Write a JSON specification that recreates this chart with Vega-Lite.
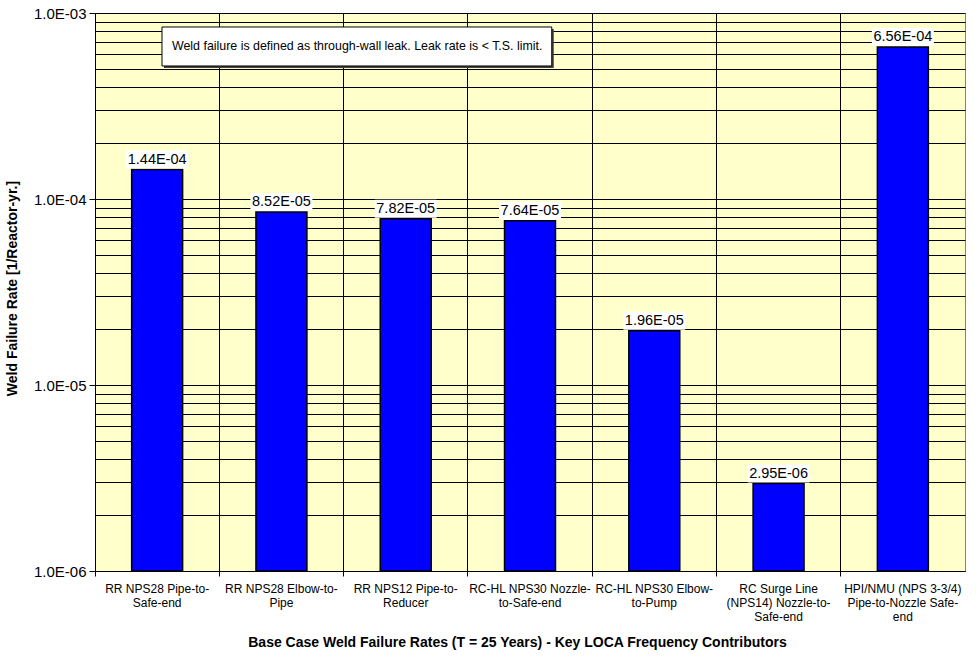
{
  "$schema": "https://vega.github.io/schema/vega-lite/v6.json",
  "autosize": "none",
  "width": 870,
  "height": 558,
  "padding": {"left": 95, "top": 13, "right": 11, "bottom": 86},
  "background": "white",
  "config": {
    "font": "Liberation Sans",
    "view": {"fill": "#FFFFCC", "stroke": "#808080", "strokeWidth": 1}
  },
  "datasets": {
    "welds": [
      {"cat": "RR NPS28 Pipe-to-|Safe-end", "rate": 0.000144, "label": "1.44E-04"},
      {"cat": "RR NPS28 Elbow-to-|Pipe", "rate": 0.0000852, "label": "8.52E-05"},
      {"cat": "RR NPS12 Pipe-to-|Reducer", "rate": 0.0000782, "label": "7.82E-05"},
      {"cat": "RC-HL NPS30 Nozzle-|to-Safe-end", "rate": 0.0000764, "label": "7.64E-05"},
      {"cat": "RC-HL NPS30 Elbow-|to-Pump", "rate": 0.0000196, "label": "1.96E-05"},
      {"cat": "RC Surge Line|(NPS14) Nozzle-to-|Safe-end", "rate": 0.00000295, "label": "2.95E-06"},
      {"cat": "HPI/NMU (NPS 3-3/4)|Pipe-to-Nozzle Safe-|end", "rate": 0.000656, "label": "6.56E-04"}
    ],
    "note": [
      {"x0": 0.077, "x1": 0.525, "xt": 0.0885, "ytop": 0.000841, "ybot": 0.000519, "ymid": 0.000665,
       "text": "Weld failure is defined as through-wall leak. Leak rate is < T.S. limit."}
    ]
  },
  "resolve": {"scale": {"x": "independent"}},
  "layer": [
    {
      "data": {"name": "welds"},
      "mark": {"type": "bar", "fill": "#0000FF", "stroke": "black", "strokeWidth": 1.5, "width": {"band": 0.41}},
      "encoding": {
        "x": {
          "field": "cat", "type": "nominal", "sort": null,
          "scale": {"paddingInner": 0, "paddingOuter": 0},
          "axis": {
            "title": "Base Case Weld Failure Rates (T = 25 Years) - Key LOCA Frequency Contributors",
            "titleFontSize": 14, "titleFontWeight": "bold", "titleColor": "black",
            "titleX": 422, "titleAlign": "center", "titleY": 71, "titleBaseline": "middle",
            "labelExpr": "split(datum.label, '|')",
            "labelAngle": 0, "labelFontSize": 12, "labelLineHeight": 14, "labelColor": "black",
            "labelPadding": 7, "labelBaseline": "top",
            "bandPosition": 0,
            "grid": true, "gridColor": "black", "gridOpacity": 1, "gridWidth": 1,
            "ticks": true, "tickSize": 5, "tickColor": "black",
            "domain": true, "domainColor": "black"
          }
        },
        "y": {
          "field": "rate", "type": "quantitative",
          "scale": {"type": "log", "domain": [0.000001, 0.001], "nice": false},
          "axis": {
            "title": "Weld Failure Rate [1/Reactor-yr.]",
            "titleFontSize": 14, "titleFontWeight": "bold", "titleColor": "black",
            "titleX": -83, "titleY": 275, "titleBaseline": "middle", "titleAngle": -90,
            "values": [0.000001, 0.000002, 0.000003, 0.000004, 0.000005, 0.000006, 0.000007, 0.000008, 0.000009,
                       0.00001, 0.00002, 0.00003, 0.00004, 0.00005, 0.00006, 0.00007, 0.00008, 0.00009,
                       0.0001, 0.0002, 0.0003, 0.0004, 0.0005, 0.0006, 0.0007, 0.0008, 0.0009, 0.001],
            "labelExpr": "abs(log(datum.value)/LN10 - round(log(datum.value)/LN10)) < 0.000001 ? '1.0E-0' + abs(round(log(datum.value)/LN10)) : ''",
            "labelFontSize": 15, "labelColor": "black", "labelPadding": 3,
            "grid": true, "gridColor": "black", "gridOpacity": 1, "gridWidth": 1,
            "tickSize": 6, "tickColor": "black",
            "tickOpacity": {"condition": {"test": "abs(log(datum.value)/LN10 - round(log(datum.value)/LN10)) < 0.000001", "value": 1}, "value": 0},
            "domain": true, "domainColor": "black"
          }
        },
        "y2": {"datum": 0.000001}
      }
    },
    {
      "data": {"name": "welds"},
      "mark": {"type": "point", "shape": "M-1,-0.29L1,-0.29L1,0.29L-1,0.29Z", "size": 3844, "filled": true, "fill": "white", "opacity": 1, "strokeWidth": 0, "yOffset": -10},
      "encoding": {
        "x": {"field": "cat", "type": "nominal", "sort": null, "scale": {"paddingInner": 0, "paddingOuter": 0}, "axis": null},
        "y": {"field": "rate", "type": "quantitative"}
      }
    },
    {
      "data": {"name": "welds"},
      "mark": {"type": "text", "fontSize": 14.5, "color": "black", "baseline": "middle", "align": "center", "yOffset": -10},
      "encoding": {
        "x": {"field": "cat", "type": "nominal", "sort": null, "scale": {"paddingInner": 0, "paddingOuter": 0}, "axis": null},
        "y": {"field": "rate", "type": "quantitative"},
        "text": {"field": "label"}
      }
    },
    {
      "data": {"name": "note"},
      "mark": {"type": "rect", "fill": "#404040", "xOffset": 2, "x2Offset": 2, "yOffset": 2, "y2Offset": 2},
      "encoding": {
        "x": {"field": "x0", "type": "quantitative", "scale": {"domain": [0, 1], "nice": false, "zero": false}, "axis": null},
        "x2": {"field": "x1"},
        "y": {"field": "ytop", "type": "quantitative"},
        "y2": {"field": "ybot"}
      }
    },
    {
      "data": {"name": "note"},
      "mark": {"type": "rect", "fill": "white", "stroke": "black", "strokeWidth": 1},
      "encoding": {
        "x": {"field": "x0", "type": "quantitative", "scale": {"domain": [0, 1], "nice": false, "zero": false}, "axis": null},
        "x2": {"field": "x1"},
        "y": {"field": "ytop", "type": "quantitative"},
        "y2": {"field": "ybot"}
      }
    },
    {
      "data": {"name": "note"},
      "mark": {"type": "text", "fontSize": 12.4, "color": "black", "align": "left", "baseline": "middle"},
      "encoding": {
        "x": {"field": "xt", "type": "quantitative", "scale": {"domain": [0, 1], "nice": false, "zero": false}, "axis": null},
        "y": {"field": "ymid", "type": "quantitative"},
        "text": {"field": "text"}
      }
    }
  ]
}
